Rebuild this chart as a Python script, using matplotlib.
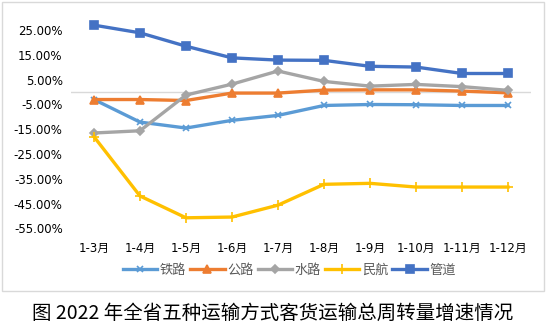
import matplotlib.pyplot as plt
from matplotlib.patches import Rectangle

# 数据（单位：%）
months = ["1-3月", "1-4月", "1-5月", "1-6月", "1-7月", "1-8月", "1-9月", "1-10月", "1-11月", "1-12月"]
tielu = [-3.0, -12.1, -14.5, -11.4, -9.4, -5.4, -5.0, -5.1, -5.4, -5.4]
gonglu = [-3.0, -3.0, -3.4, -0.4, -0.4, 0.8, 0.9, 0.9, 0.4, -0.3]
shuilu = [-16.5, -15.6, -1.2, 3.2, 8.5, 4.3, 2.4, 3.1, 2.2, 0.7]
minhang = [-18.0, -41.9, -50.7, -50.4, -45.6, -37.2, -36.8, -38.3, -38.3, -38.3]
guandao = [27.0, 23.9, 18.5, 13.8, 12.9, 12.8, 10.4, 10.1, 7.5, 7.5]
yticks = [-55, -45, -35, -25, -15, -5, 5, 15, 25]

fam = ["DejaVu Sans", "Noto Sans CJK SC"]

fig = plt.figure(figsize=(5.46, 3.34), dpi=100)
ax = fig.add_axes([0.130, 0.316, 0.8425, 0.631])

x = list(range(len(months)))
series = [
    ("铁路", tielu, "#5B9BD5", "x", 5),
    ("公路", gonglu, "#ED7D31", "^", 6),
    ("水路", shuilu, "#A5A5A5", "D", 4.5),
    ("民航", minhang, "#FFC000", "+", 7),
    ("管道", guandao, "#4472C4", "s", 6),
]
for name, vals, c, m, ms in series:
    ax.plot(x, vals, color=c, marker=m, markersize=ms, linewidth=2.4,
            markeredgewidth=1.2, label=name)

ax.axhline(0, color="#d9d9d9", linewidth=1, zorder=0)
ax.set_xlim(-0.5, len(months) - 0.5)
ax.set_ylim(-55, 30)
ax.set_yticks(yticks)
ax.set_yticklabels([f"{v:.2f}%" for v in yticks], family=fam, fontsize=8.5)
ax.set_xticks(x)
ax.set_xticklabels(months, family=fam, fontsize=8.5)
ax.tick_params(length=0, pad=6)
ax.tick_params(axis="x", pad=10)
for s in ax.spines.values():
    s.set_visible(False)

leg = fig.legend(loc="center", bbox_to_anchor=(0.53, 0.19), ncol=5, frameon=False,
                 prop={"family": fam, "size": 9.5}, handlelength=2.6,
                 columnspacing=0.3, handletextpad=0.2)
for t in leg.get_texts():
    t.set_color("#595959")

fig.patches.append(Rectangle((2 / 546, 1 - 291 / 334), 542 / 546, 289 / 334,
                             transform=fig.transFigure, fill=False,
                             edgecolor="#d9d9d9", linewidth=1))

fig.text(0.5, 1 - 313 / 334, "图 2022 年全省五种运输方式客货运输总周转量增速情况",
         ha="center", va="center", family=["Noto Sans CJK SC", "DejaVu Sans"],
         fontsize=14)

fig.savefig("out.png", dpi=100)
